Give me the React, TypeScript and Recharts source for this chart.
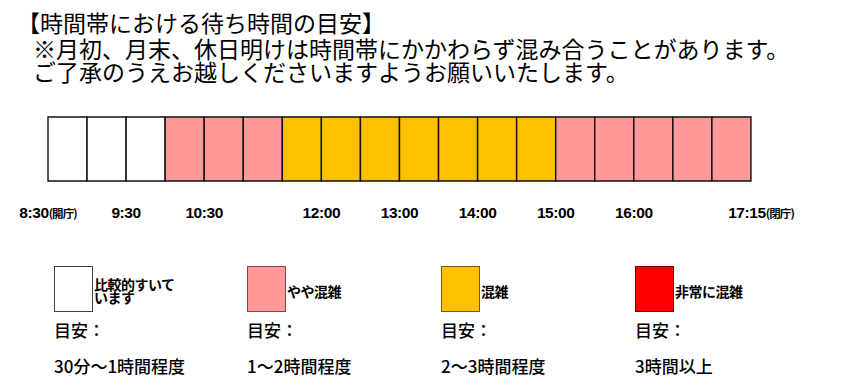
import { BarChart, Bar, XAxis, YAxis, Cell } from 'recharts';

// 混雑度 (0: すいている, 1: やや混雑, 2: 混雑, 3: 非常に混雑) per 時間枠
const cellLevels = [0, 0, 0, 1, 1, 1, 2, 2, 2, 2, 2, 2, 2, 1, 1, 1, 1, 1];
const cellHeights = [1, 1, 1, 1, 1, 1, 1, 1, 1, 1, 1, 1, 1, 1, 1, 1, 1, 1];

// boundaries between slots where a time is printed
const timeTicks = [0, 2, 4, 7, 9, 11, 13, 15, 18];
const timeLabels = ['8:30', '9:30', '10:30', '12:00', '13:00', '14:00', '15:00', '16:00', '17:15'];
const timeNotes = ['(開庁)', '', '', '', '', '', '', '', '(閉庁)'];

const levelNames = [['比較的すいて', 'います'], ['やや混雑'], ['混雑'], ['非常に混雑']];
const levelColors = ['#FFFFFF', '#FF9999', '#FFC000', '#FF0000'];
const levelBorders = ['#444444', '#7a4a4a', '#7a5a00', '#7a0000'];
const levelGuides = ['30分～1時間程度', '1～2時間程度', '2～3時間程度', '3時間以上'];

const titleLines = [
  '【時間帯における待ち時間の目安】',
  '※月初、月末、休日明けは時間帯にかかわらず混み合うことがあります。',
  'ご了承のうえお越しくださいますようお願いいたします。',
];

const JP = '"Noto Sans CJK JP", sans-serif';

const chartData = cellLevels.map((level, i) => ({ slot: i, level, full: cellHeights[i] }));

const TickText = ({ x, y, i }: { x: number; y: number; i: number }) => (
  <text
    x={x}
    y={y}
    textAnchor="middle"
    fontFamily='"Liberation Sans", Arial, sans-serif'
    fontWeight={700}
    fontSize={15.5}
    letterSpacing={-0.4}
    fill="#000"
  >
    <tspan>{timeLabels[i]}</tspan>
    {timeNotes[i] && (
      <tspan fontFamily={JP} fontSize={11.5} fontWeight={700} letterSpacing={-0.9}>
        {timeNotes[i]}
      </tspan>
    )}
  </text>
);

// slot ticks sit at band centres; shift them to the slot edges
const TimeTick = (props: any) => {
  const { x, y, payload } = props;
  const slot = Number(payload.value);
  const half = payload.offset ?? 0;
  const startIdx = timeTicks.indexOf(slot);
  const endIdx = timeTicks.indexOf(slot + 1);
  const lastSlot = slot === cellLevels.length - 1;
  return (
    <g>
      {startIdx >= 0 && <TickText x={x - half} y={y + 37} i={startIdx} />}
      {lastSlot && endIdx >= 0 && <TickText x={x + half + 10} y={y + 37} i={endIdx} />}
    </g>
  );
};

const legendX = [54, 247, 441, 635];

export default function App() {
  return (
    <div style={{ position: 'fixed', left: 0, top: 0, width: 848, height: 390, background: '#fff', fontFamily: JP, color: '#000' }}>
      {titleLines.map((t, i) => (
        <div
          key={i}
          style={{
            position: 'absolute',
            left: i === 0 ? 17 : 33,
            top: [11, 37, 60][i],
            fontSize: 23,
            lineHeight: '22px',
            whiteSpace: 'nowrap',
          }}
        >
          {t}
        </div>
      ))}

      <div style={{ position: 'absolute', left: 0, top: 0 }}>
        <BarChart
          width={848}
          height={240}
          data={chartData}
          margin={{ top: 117, right: 97, bottom: 19, left: 48 }}
          barCategoryGap={0}
          barGap={0}
        >
          <XAxis
            dataKey="slot"
            type="category"
            interval={0}
            height={40}
            axisLine={false}
            tickLine={false}
            tickSize={0}
            tickMargin={0}
            tick={<TimeTick />}
          />
          <YAxis hide domain={[0, 1]} />
          <Bar dataKey="full" isAnimationActive={false} stroke="#111" strokeWidth={1.4}>
            {chartData.map((d) => (
              <Cell key={d.slot} fill={levelColors[d.level]} />
            ))}
          </Bar>
        </BarChart>
      </div>

      {levelNames.map((name, i) => (
        <div key={i}>
          <div
            style={{
              position: 'absolute',
              left: legendX[i],
              top: 266,
              width: 37,
              height: 44,
              background: levelColors[i],
              border: `1px solid ${levelBorders[i]}`,
            }}
          />
          <div
            style={{
              position: 'absolute',
              left: legendX[i] + 40,
              top: 291 - name.length * 6.5,
              fontSize: 14,
              fontWeight: 700,
              lineHeight: '13px',
              letterSpacing: -0.5,
              whiteSpace: 'nowrap',
            }}
          >
            {name.map((n, k) => (
              <div key={k}>{n}</div>
            ))}
          </div>
          <div
            style={{ position: 'absolute', left: legendX[i], top: 318, fontSize: 17, fontWeight: 500, lineHeight: '24px', whiteSpace: 'nowrap' }}
          >
            目安：
          </div>
          <div
            style={{ position: 'absolute', left: legendX[i], top: 354, fontSize: 17, fontWeight: 500, lineHeight: '24px', whiteSpace: 'nowrap' }}
          >
            {levelGuides[i]}
          </div>
        </div>
      ))}
    </div>
  );
}
